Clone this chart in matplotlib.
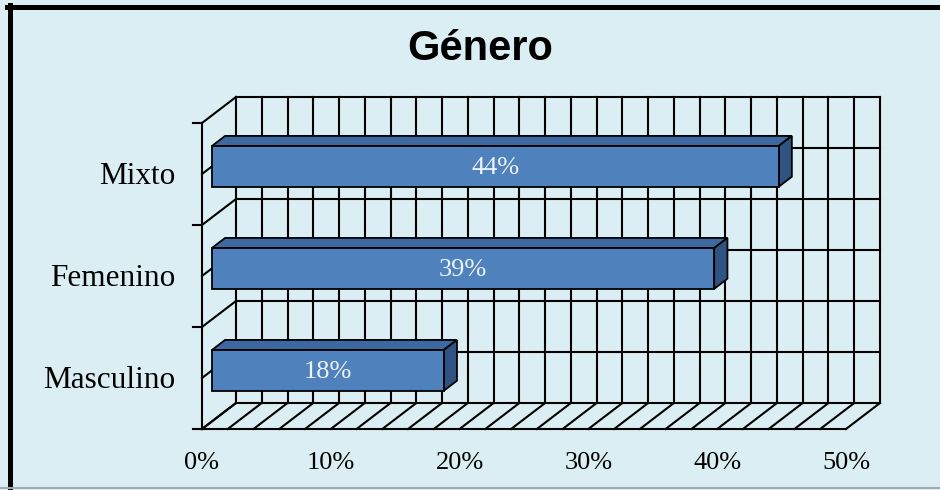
import matplotlib
matplotlib.use("Agg")
import matplotlib.pyplot as plt
from matplotlib.patches import Polygon
from matplotlib.lines import Line2D
import numpy as np

categories = ["Masculino", "Femenino", "Mixto"]
values = [18, 39, 44]
bar_labels = ["18%", "39%", "44%"]
xticks = [0, 10, 20, 30, 40, 50]
xtick_labels = ["0%", "10%", "20%", "30%", "40%", "50%"]

BG = "#DBEEF3"
FRONT = "#4F81BD"
TOP = "#3E69A0"
SIDE = "#2F5483"
SERIF = "Liberation Serif"

# oblique depth offset of the floor/front plane, in data units
DX = -34 / 12.88
DY = -26 / 102
D_FRONT, D_BACK = 0.29, 0.68   # bar depth slot (0 = front, 1 = back wall)
HALF_H = 0.2


def proj(v, c, d):
    return v + DX * (1 - d), c + DY * (1 - d)


def seg(ax, p, q, lw=1.5):
    ax.add_line(Line2D([p[0], q[0]], [p[1], q[1]], color="black", lw=lw,
                       clip_on=False, solid_capstyle="projecting"))


fig = plt.figure(figsize=(9.4, 4.9), dpi=100, facecolor=BG)
ax = fig.add_axes([236 / 940, 87 / 490, 644 / 940, 306 / 490])
ax.set_xlim(0, 50)
ax.set_ylim(0, 3)
ax.axis("off")

# back wall
for v in np.arange(0, 51, 2):
    seg(ax, (v, 0), (v, 3))
for c in np.arange(0, 3.01, 0.5):
    seg(ax, (0, c), (50, c))
    seg(ax, proj(0, c, 1), proj(0, c, 0))
# floor
for v in np.arange(0, 51, 2):
    seg(ax, proj(v, 0, 1), proj(v, 0, 0))
seg(ax, proj(0, 0, 0), proj(50, 0, 0))
seg(ax, proj(0, 0, 0), proj(0, 3, 0))
for c in range(4):
    x0, y0 = proj(0, c, 0)
    seg(ax, (x0 - 0.7, y0), (x0, y0))

# bars
for i, (v, lab) in enumerate(zip(values, bar_labels)):
    c0, c1 = i + 0.5 - HALF_H, i + 0.5 + HALF_H
    top = [proj(0, c1, D_FRONT), proj(v, c1, D_FRONT), proj(v, c1, D_BACK), proj(0, c1, D_BACK)]
    side = [proj(v, c0, D_FRONT), proj(v, c0, D_BACK), proj(v, c1, D_BACK), proj(v, c1, D_FRONT)]
    front = [proj(0, c0, D_FRONT), proj(v, c0, D_FRONT), proj(v, c1, D_FRONT), proj(0, c1, D_FRONT)]
    for pts, col in ((top, TOP), (side, SIDE), (front, FRONT)):
        ax.add_patch(Polygon(pts, closed=True, facecolor=col, edgecolor="black",
                             lw=1.3, clip_on=False, zorder=3))
    cx, cy = proj(v / 2, i + 0.5, D_FRONT)
    ax.annotate(lab, (cx, cy), xytext=(0, -1), textcoords="offset points",
                ha="center", va="center", color="#EEF3FA",
                family=SERIF, fontsize=19, zorder=4, annotation_clip=False)

# category labels
for i, name in enumerate(categories):
    ax.annotate(name, proj(0, i + 0.5, 0), xytext=(-19.5, -2), textcoords="offset points",
                ha="right", va="center", family=SERIF, fontsize=22.5, annotation_clip=False)

# value axis labels
for v, lab in zip(xticks, xtick_labels):
    ax.annotate(lab, proj(v, 0, 0), xytext=(0, -24.5), textcoords="offset points",
                ha="center", va="center", family=SERIF, fontsize=19, annotation_clip=False)

fig.text(480 / 940, 1 - 49 / 490, "Género", ha="center", va="center",
         family="Liberation Sans", fontweight="bold", fontsize=30)

# frame
fig.add_artist(Line2D([7 / 940, 1], [1 - 7 / 490] * 2, transform=fig.transFigure,
                      color="black", lw=3.6))
fig.add_artist(Line2D([9.5 / 940] * 2, [0, 1 - 5 / 490], transform=fig.transFigure,
                      color="black", lw=3.6))
fig.add_artist(Line2D([0, 1], [2 / 490] * 2, transform=fig.transFigure,
                      color="#A3ABAD", lw=1.5))

fig.savefig("out.png", dpi=100, facecolor=BG)
